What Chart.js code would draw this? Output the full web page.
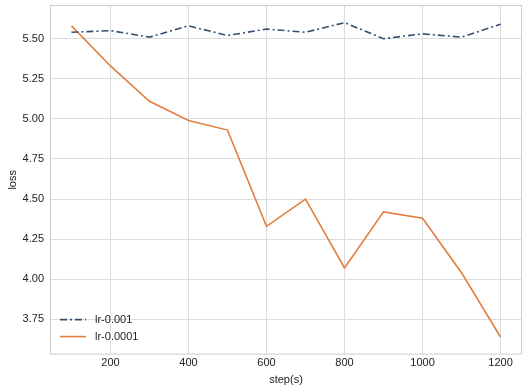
<!DOCTYPE html>
<html>
<head>
<meta charset="utf-8">
<script src="https://cdn.jsdelivr.net/npm/chart.js@4"></script>
<style>
  html, body { margin: 0; padding: 0; background: #fff; }
  #wrap { width: 528px; height: 388px; }
</style>
</head>
<body>
<div id="wrap"><canvas id="cv1" width="528" height="388"></canvas></div>
<script>
// data
const steps = [100, 200, 300, 400, 500, 600, 700, 800, 900, 1000, 1100, 1200];
const lossLr001 = [5.54, 5.55, 5.51, 5.58, 5.52, 5.56, 5.54, 5.60, 5.50, 5.53, 5.51, 5.59];
const lossLr0001 = [5.58, 5.33, 5.11, 4.99, 4.93, 4.33, 4.50, 4.07, 4.42, 4.38, 4.04, 3.64];
const xTicks = [200, 400, 600, 800, 1000, 1200];
const yTicks = [3.75, 4.00, 4.25, 4.50, 4.75, 5.00, 5.25, 5.50];

const font = { family: 'Liberation Sans, Arial, sans-serif', size: 11 };
const gridCol = '#dcdcdc';

function pts(ys) {
  return steps.map((s, i) => ({ x: s, y: ys[i] }));
}

// frame around plot + legend inside at lower left
const framePlugin = {
  id: 'frame',
  beforeDatasetsDraw(chart) {
    const a = chart.chartArea, c = chart.ctx;
    c.save();
    c.strokeStyle = '#cccccc';
    c.lineWidth = 1;
    c.strokeRect(a.left + 0.5, a.top + 0.5, a.right - a.left - 1, a.bottom - a.top - 1);
    c.restore();
  },
  afterDraw(chart) {
    const a = chart.chartArea, c = chart.ctx;
    c.save();
    chart.data.datasets.forEach((ds, i) => {
      const y = a.bottom - 35 + i * 17;
      c.beginPath();
      c.strokeStyle = ds.borderColor;
      c.lineWidth = ds.borderWidth;
      c.setLineDash(ds.borderDash || []);
      c.moveTo(a.left + 10, y);
      c.lineTo(a.left + 36, y);
      c.stroke();
      c.setLineDash([]);
      c.fillStyle = '#222';
      c.font = '11px ' + font.family;
      c.textBaseline = 'middle';
      c.fillText(ds.label, a.left + 45, y);
    });
    c.restore();
  }
};

const ctx = document.getElementById('cv1').getContext('2d');
new Chart(ctx, {
  type: 'line',
  data: {
    datasets: [
      {
        label: 'lr-0.001',
        data: pts(lossLr001),
        borderColor: '#34506e',
        borderWidth: 1.6,
        borderDash: [7, 3, 2, 3],
        pointRadius: 0,
        tension: 0
      },
      {
        label: 'lr-0.0001',
        data: pts(lossLr0001),
        borderColor: '#e0803e',
        borderWidth: 1.6,
        pointRadius: 0,
        tension: 0
      }
    ]
  },
  plugins: [framePlugin],
  options: {
    responsive: false,
    animation: false,
    layout: { padding: { left: 0, right: 6, top: 5, bottom: 0 } },
    plugins: { legend: { display: false }, tooltip: { enabled: false } },
    scales: {
      x: {
        type: 'linear',
        min: 45,
        max: 1255,
        afterBuildTicks: (ax) => { ax.ticks = xTicks.map(v => ({ value: v })); },
        grid: { color: gridCol, drawTicks: false },
        border: { display: false },
        ticks: { color: '#222', font: font, padding: 2, maxRotation: 0, callback: v => String(v) },
        title: { display: true, text: 'step(s)', color: '#222', font: font, padding: { top: 2, bottom: 1 } }
      },
      y: {
        min: 3.53,
        max: 5.71,
        afterBuildTicks: (ax) => { ax.ticks = yTicks.map(v => ({ value: v })); },
        afterFit: (ax) => { ax.width = 50; ax.paddingTop = 0; },
        grid: { color: gridCol, drawTicks: false },
        border: { display: false },
        ticks: { color: '#222', font: font, padding: 6, callback: v => v.toFixed(2) },
        title: { display: true, text: 'loss', color: '#222', font: font, padding: { top: 6, bottom: 0 } }
      }
    }
  }
});
</script>
</body>
</html>
